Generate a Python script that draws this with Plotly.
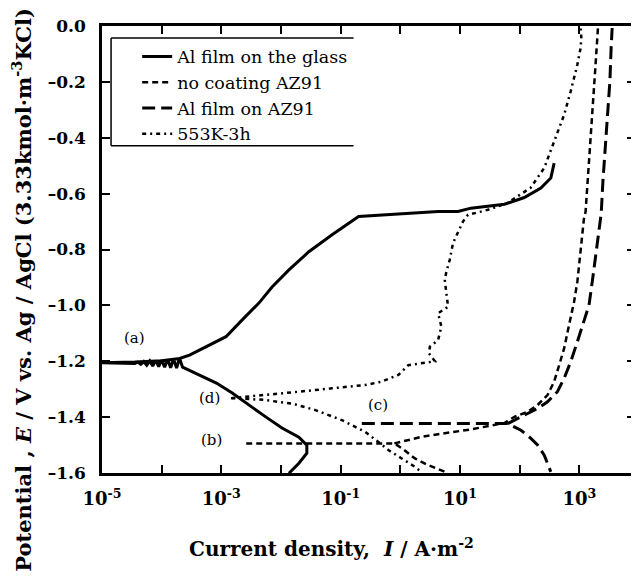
import numpy as np
import plotly.graph_objects as go

# ---- data (log10 of current density in A/m^2, potential in V) ----
glass_logI = [-1.867, -1.70, -1.567, -1.567, -1.70, -1.983, -2.25, -2.533, -2.817, -3.083,
              -3.367, -3.65, -3.70, -3.75, -3.80, -3.85, -3.90, -3.95, -4.00, -4.05, -4.10,
              -4.15, -4.20, -4.25, -4.30, -4.35, -4.40, -4.45, -5.0, -4.45, -4.0, -3.7,
              -3.533, -3.255, -2.922, -2.65, -2.367, -2.15, -1.867,
              -1.533, -1.15, -0.70, -0.533, 0.133, 0.633, 0.967, 1.183, 1.745, 2.078, 2.355,
              2.522, 2.578]
glass_E = [-1.601, -1.565, -1.529, -1.500, -1.472, -1.439, -1.400, -1.357, -1.314, -1.278,
           -1.249, -1.221, -1.189, -1.224, -1.191, -1.223, -1.193, -1.221, -1.195, -1.219, -1.197,
           -1.217, -1.199, -1.214, -1.201, -1.211, -1.203, -1.208, -1.205, -1.203, -1.198, -1.190,
           -1.178, -1.148, -1.112, -1.052, -0.991, -0.934, -0.873,
           -0.808, -0.748, -0.682, -0.680, -0.670, -0.664, -0.664, -0.652, -0.638, -0.614, -0.580,
           -0.544, -0.491]

nocoat_cath_logI = [-2.583, -1.5, -0.6, -0.1, 0.05, 0.245, 0.467, 0.688, 0.8]
nocoat_cath_E = [-1.494, -1.493, -1.492, -1.494, -1.515, -1.548, -1.572, -1.590, -1.600]
nocoat_anod_logI = [-0.1, 0.35, 0.633, 0.967, 1.183, 1.745, 1.912, 2.133, 2.30, 2.467, 2.578,
                    2.662, 2.745, 2.828, 2.912, 2.967, 3.022, 3.078, 3.105, 3.162, 3.217, 3.272, 3.312]
nocoat_anod_E = [-1.494, -1.471, -1.461, -1.450, -1.444, -1.421, -1.399, -1.381, -1.357, -1.321, -1.273,
                 -1.214, -1.154, -1.070, -0.987, -0.915, -0.795, -0.688, -0.664, -0.497, -0.318, -0.138, -0.007]

alaz_cath_logI = [-0.645, 0.5, 1.2, 1.8, 2.022, 2.188, 2.30, 2.412, 2.467, 2.522]
alaz_cath_E = [-1.423, -1.424, -1.423, -1.423, -1.447, -1.476, -1.500, -1.536, -1.566, -1.596]
alaz_anod_logI = [1.8, 2.078, 2.30, 2.467, 2.633, 2.745, 2.855, 2.967, 3.078, 3.162, 3.217,
                  3.272, 3.328, 3.367, 3.395, 3.438, 3.478, 3.512, 3.533, 3.55]
alaz_anod_E = [-1.423, -1.393, -1.369, -1.345, -1.309, -1.261, -1.202, -1.130, -1.058, -0.999, -0.915,
               -0.831, -0.748, -0.670, -0.557, -0.437, -0.318, -0.198, -0.078, -0.007]

heat_cath_logI = [-2.833, -2.3, -1.8, -1.422, -0.978, -0.588, -0.367, -0.2, 0.017, 0.245, 0.35]
heat_cath_E = [-1.332, -1.338, -1.352, -1.375, -1.411, -1.453, -1.489, -1.518, -1.547, -1.578, -1.596]
heat_anod_logI = [-2.833, -2.25, -1.70, -1.15, -0.588, -0.312, -0.033, 0.133, 0.45, 0.58, 0.48,
                  0.495, 0.633, 0.688, 0.633, 0.80, 0.772, 0.745, 0.772, 0.828, 0.883, 1.05, 1.133,
                  1.467, 1.80, 2.183, 2.412, 2.578, 2.745, 2.855, 2.967, 3.022, 3.033, 3.022]
heat_anod_E = [-1.332, -1.321, -1.309, -1.297, -1.285, -1.273, -1.249, -1.214, -1.204, -1.200, -1.172,
               -1.148, -1.124, -1.076, -1.028, -1.005, -0.957, -0.909, -0.879, -0.837, -0.777, -0.700, -0.676,
               -0.658, -0.633, -0.579, -0.508, -0.413, -0.318, -0.234, -0.138, -0.078, -0.042, -0.007]

names = ["Al film on the glass", "no coating AZ91", "Al film on AZ91", "553K-3h"]
x_tick_exp = [-5, -4, -3, -2, -1, 0, 1, 2, 3]
y_ticks = [0.0, -0.2, -0.4, -0.6, -0.8, -1.0, -1.2, -1.4, -1.6]

labels = ["(a)", "(b)", "(c)", "(d)"]
label_logI = [-4.45, -3.17, -0.37, -3.2]
label_E = [-1.116, -1.482, -1.357, -1.332]


def cur(logs):
    return [10.0 ** v for v in logs]


SERIF = "DejaVu Serif"
fig = go.Figure()

fig.add_trace(go.Scatter(x=cur(glass_logI), y=glass_E, mode="lines", name=names[0],
                         line=dict(color="black", width=3), legendgroup="a"))
fig.add_trace(go.Scatter(x=cur(nocoat_cath_logI), y=nocoat_cath_E, mode="lines", name=names[1],
                         line=dict(color="black", width=2.5, dash="6px,4px"), legendgroup="b"))
fig.add_trace(go.Scatter(x=cur(nocoat_anod_logI), y=nocoat_anod_E, mode="lines", name=names[1],
                         line=dict(color="black", width=2.5, dash="6px,4px"), legendgroup="b",
                         showlegend=False))
fig.add_trace(go.Scatter(x=cur(alaz_cath_logI), y=alaz_cath_E, mode="lines", name=names[2],
                         line=dict(color="black", width=3, dash="13px,6px"), legendgroup="c"))
fig.add_trace(go.Scatter(x=cur(alaz_anod_logI), y=alaz_anod_E, mode="lines", name=names[2],
                         line=dict(color="black", width=3, dash="13px,6px"), legendgroup="c",
                         showlegend=False))
fig.add_trace(go.Scatter(x=cur(heat_cath_logI), y=heat_cath_E, mode="lines", name=names[3],
                         line=dict(color="black", width=2.5, dash="4px,4px,2px,4px"), legendgroup="d"))
fig.add_trace(go.Scatter(x=cur(heat_anod_logI), y=heat_anod_E, mode="lines", name=names[3],
                         line=dict(color="black", width=2.5, dash="4px,4px,2px,4px"), legendgroup="d",
                         showlegend=False))

for t, lx, ly in zip(labels, label_logI, label_E):
    fig.add_annotation(x=lx, y=ly, xref="x", yref="y", text=t, showarrow=False,
                       font=dict(family=SERIF, size=15, color="black"))

xt_vals = [10.0 ** e for e in x_tick_exp]
xt_text = [f"<b>10<sup>{e}</sup></b>" if e % 2 != 0 else "" for e in x_tick_exp]
yt_text = ["<b>" + (f"{v:.1f}".replace("-", "\u2013")) + "</b>" for v in y_ticks]

fig.update_xaxes(type="log", range=[-5, 3.933], tickvals=xt_vals, ticktext=xt_text,
                 ticks="inside", ticklen=8, tickwidth=2, tickcolor="black",
                 showline=True, linewidth=2.5, linecolor="black", mirror="allticks",
                 showgrid=False, zeroline=False, ticklabelstandoff=8,
                 tickfont=dict(family=SERIF, size=18, color="black"))
fig.update_yaxes(range=[-1.6, 0], tickvals=y_ticks, ticktext=yt_text,
                 ticks="inside", ticklen=8, tickwidth=2, tickcolor="black",
                 showline=True, linewidth=2.5, linecolor="black", mirror="allticks",
                 showgrid=False, zeroline=False, ticklabelstandoff=10,
                 tickfont=dict(family=SERIF, size=17, color="black"))

# y-axis title
fig.add_annotation(x=-0.149, y=0.409, xref="paper", yref="paper", textangle=-90,
                   text="<b>Potential , <i>E</i> / V vs. Ag / AgCl (3.33kmol\u00b7m<sup>-3</sup>KCl)</b>",
                   showarrow=False, xanchor="center", yanchor="middle",
                   font=dict(family=SERIF, size=21, color="black"))
# x-axis title
fig.add_annotation(x=0.43, y=-0.168, xref="paper", yref="paper",
                   text="<b>Current density,  <i>I</i> / A\u00b7m<sup>-2</sup></b>",
                   showarrow=False, xanchor="center", yanchor="middle",
                   font=dict(family=SERIF, size=20, color="black"))

# legend frame (left, top, bottom lines)
lx0, lx1, ly0, ly1 = 0.017, 0.472, 0.732, 0.973
for (x0, y0, x1, y1) in [(lx0, ly0, lx0, ly1), (lx0, ly1, lx1, ly1), (lx0, ly0, lx1, ly0)]:
    fig.add_shape(type="line", xref="paper", yref="paper", x0=x0, y0=y0, x1=x1, y1=y1,
                  line=dict(color="black", width=1.5))

# the page body has an 8px default margin, so the figure is 8px smaller on each side
fig.update_layout(
    width=631, height=568,
    margin=dict(l=94, r=1, t=18, b=103),
    plot_bgcolor="white", paper_bgcolor="white",
    showlegend=True,
    legend=dict(x=0.066, y=0.972, xanchor="left", yanchor="top",
                bgcolor="rgba(0,0,0,0)", borderwidth=0, tracegroupgap=0,
                font=dict(family=SERIF, size=17.5, color="black")),
)

fig.write_html("out.html")
